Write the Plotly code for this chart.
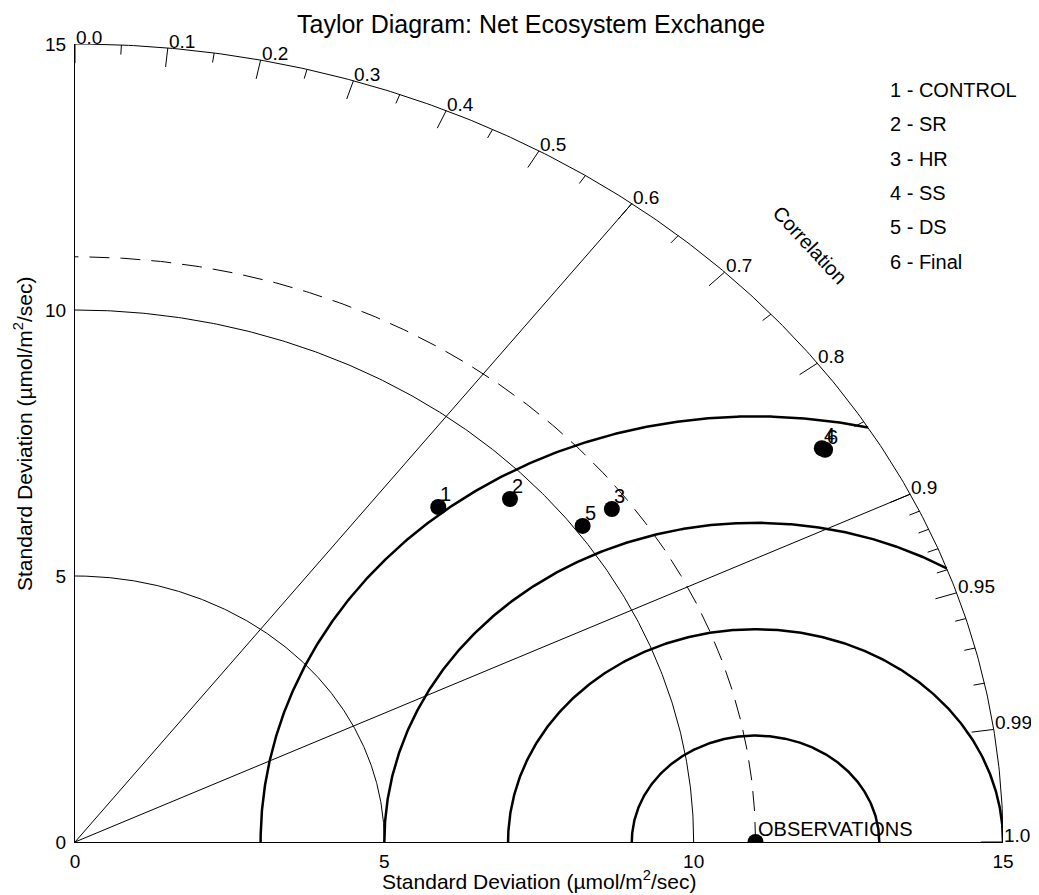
import numpy as np
import plotly.graph_objects as go

# ---------------- data ----------------
model_ids = ["1", "2", "3", "4", "5", "6"]
model_names = ["CONTROL", "SR", "HR", "SS", "DS", "Final"]
model_std = [8.61, 9.54, 10.70, 14.16, 10.13, 14.19]
model_corr = [0.682, 0.737, 0.811, 0.8525, 0.810, 0.8544]

obs_std = 11.0
obs_label = "OBSERVATIONS"

std_max = 15.0
std_ticks = [0, 5, 10, 15]
std_tick_labels = ["0", "5", "10", "15"]
std_arcs = [5.0, 10.0]
rms_arcs = [2.0, 4.0, 6.0, 8.0]
corr_lines = [0.6, 0.9]

corr_major = [0.0, 0.1, 0.2, 0.3, 0.4, 0.5, 0.6, 0.7, 0.8, 0.9, 0.95, 0.99, 1.0]
corr_major_labels = ["0.0", "0.1", "0.2", "0.3", "0.4", "0.5", "0.6", "0.7",
                     "0.8", "0.9", "0.95", "0.99", "1.0"]
corr_minor = [0.05, 0.15, 0.25, 0.35, 0.45, 0.55, 0.65, 0.75, 0.85,
              0.91, 0.92, 0.93, 0.94, 0.96, 0.97, 0.98]

title_text = "Taylor Diagram: Net Ecosystem Exchange"
axis_title = "Standard Deviation (µmol/m<sup>2</sup>/sec)"
corr_title = "Correlation"

FONT = "Liberation Sans, Arial, Helvetica, sans-serif"

# ---------------- geometry helpers ----------------
def quarter_arc(r, n=300):
    t = np.linspace(0, np.pi / 2, n)
    return list(r * np.cos(t)), list(r * np.sin(t))

def rms_arc(R, c, rmax, n=400):
    # part of the circle (centre (c,0), radius R) lying inside radius rmax
    if c + R > rmax:
        xi = (rmax ** 2 - R ** 2 + c ** 2) / (2 * c)
        yi = np.sqrt(max(rmax ** 2 - xi ** 2, 0))
        phi = np.arctan2(yi, xi - c)
    else:
        phi = 0.0
    t = np.linspace(phi, np.pi, n)
    return list(c + R * np.cos(t)), list(R * np.sin(t))

thin_x, thin_y = [], []
for r in std_arcs + [std_max]:
    ax, ay = quarter_arc(r)
    thin_x += ax + [None]
    thin_y += ay + [None]
for c in corr_lines:
    th = np.arccos(c)
    thin_x += [0, std_max * np.cos(th), None]
    thin_y += [0, std_max * np.sin(th), None]

major_len = 0.36
minor_len = 0.18
for clist, L in ((corr_major, major_len), (corr_minor, minor_len)):
    for c in clist:
        th = np.arccos(c)
        thin_x += [std_max * np.cos(th), (std_max - L) * np.cos(th), None]
        thin_y += [std_max * np.sin(th), (std_max - L) * np.sin(th), None]

dash_x, dash_y = quarter_arc(obs_std)

thick_x, thick_y = [], []
for R in rms_arcs:
    ax, ay = rms_arc(R, obs_std, std_max)
    thick_x += ax + [None]
    thick_y += ay + [None]

mx = [s * c for s, c in zip(model_std, model_corr)]
my = [s * np.sqrt(1 - c ** 2) for s, c in zip(model_std, model_corr)]

fig = go.Figure()
fig.add_trace(go.Scatter(x=thin_x, y=thin_y, mode="lines",
                         line=dict(color="black", width=1), cliponaxis=False,
                         hoverinfo="skip", showlegend=False))
fig.add_trace(go.Scatter(x=dash_x, y=dash_y, mode="lines",
                         line=dict(color="black", width=1, dash="20px,11px"),
                         cliponaxis=False, hoverinfo="skip", showlegend=False))
fig.add_trace(go.Scatter(x=thick_x, y=thick_y, mode="lines",
                         line=dict(color="black", width=2.5), cliponaxis=False,
                         hoverinfo="skip", showlegend=False))
fig.add_trace(go.Scatter(x=mx, y=my, mode="markers",
                         marker=dict(color="black", size=16),
                         showlegend=False))
fig.add_trace(go.Scatter(x=[obs_std], y=[0], mode="markers",
                         marker=dict(color="black", size=16),
                         cliponaxis=True, showlegend=False))

ann = []
for lab, x, y in zip(model_ids, mx, my):
    ann.append(dict(x=x, y=y, text=lab, xanchor="left", yanchor="bottom",
                    showarrow=False, font=dict(size=20, family=FONT, color="black")))
ann.append(dict(x=obs_std, y=0, text=obs_label, xanchor="left", yanchor="bottom",
                showarrow=False, font=dict(size=20, family=FONT, color="black")))

for c, lab in zip(corr_major, corr_major_labels):
    th = np.arccos(c)
    ann.append(dict(x=std_max * np.cos(th), y=std_max * np.sin(th), text=lab,
                    xanchor="left", yanchor="bottom", yshift=-5, showarrow=False,
                    borderpad=0,
                    font=dict(size=19, family=FONT, color="black")))

ann.append(dict(x=11.88, y=11.22, text=corr_title, textangle=47,
                xanchor="center", yanchor="middle", showarrow=False,
                font=dict(size=20, family=FONT, color="black")))

# legend list (screen-pixel positions converted to paper units)
leg_top = 89.7
leg_step = 34.4
for i, (lab, nm) in enumerate(zip(model_ids, model_names)):
    ypix = leg_top + i * leg_step
    ann.append(dict(xref="paper", yref="paper", x=(888 - 75) / 928,
                    y=(842 - ypix) / 798, text=f"{lab} - {nm}",
                    xanchor="left", yanchor="middle", showarrow=False,
                    font=dict(size=20, family=FONT, color="black")))

# titles
ann.append(dict(xref="paper", yref="paper", x=(531 - 75) / 928, y=(842 - 24) / 798,
                text=title_text, xanchor="center", yanchor="middle", showarrow=False,
                font=dict(size=25, family=FONT, color="black")))
ann.append(dict(xref="paper", yref="paper", x=0.5, y=(842 - 880) / 798,
                text=axis_title, xanchor="center", yanchor="middle", showarrow=False,
                font=dict(size=21, family=FONT, color="black")))
ann.append(dict(xref="paper", yref="paper", x=(23 - 75) / 928, y=(842 - 434) / 798,
                text=axis_title, textangle=-90, xanchor="center", yanchor="middle",
                showarrow=False, font=dict(size=21, family=FONT, color="black")))

axis_common = dict(range=[0, std_max], tickvals=std_ticks, ticktext=std_tick_labels,
                   showgrid=False, zeroline=False, showline=True, linecolor="black",
                   linewidth=1, ticks="", automargin=False,
                   tickfont=dict(size=19, family=FONT, color="black"))

# the page body adds an 8px offset, so the figure is 8px smaller with 8px less left/top margin
fig.update_layout(
    width=1031, height=887,
    margin=dict(l=67, r=36, t=36, b=53),
    paper_bgcolor="white", plot_bgcolor="white",
    xaxis=dict(**axis_common, ticklabelstandoff=2),
    yaxis=dict(**axis_common, ticklabelstandoff=4),
    annotations=ann,
    showlegend=False,
)

fig.write_html("out.html")
